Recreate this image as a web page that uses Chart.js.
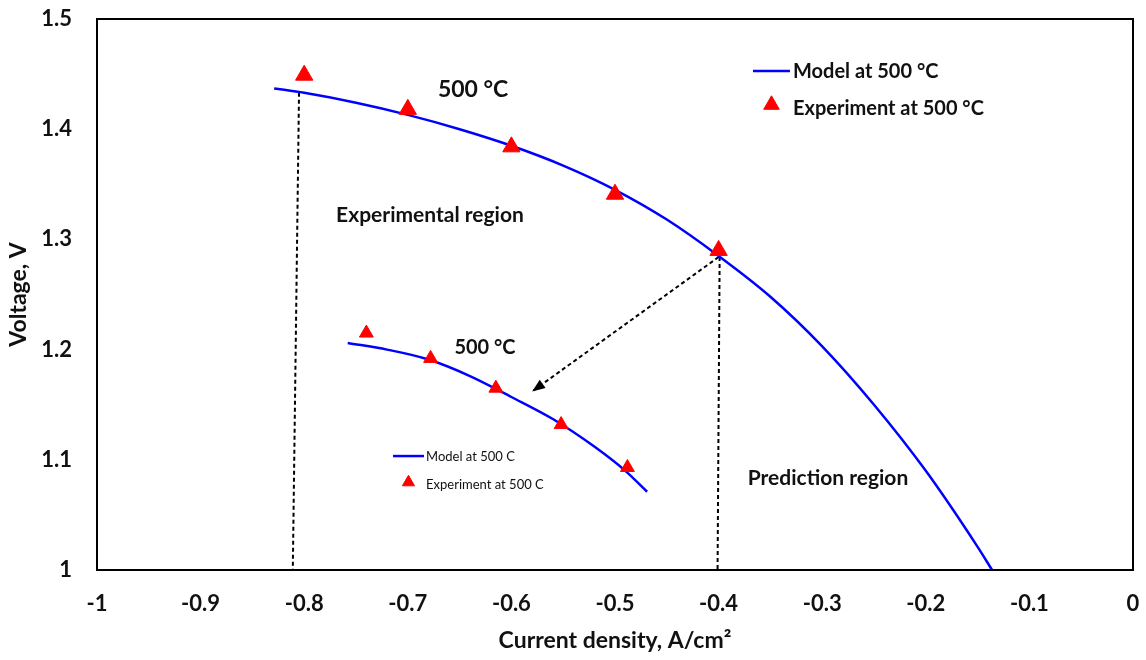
<!DOCTYPE html>
<html>
<head>
<meta charset="utf-8">
<script src="https://cdn.jsdelivr.net/npm/chart.js@4.4.0/dist/chart.umd.min.js"></script>
<style>
  html, body { margin: 0; padding: 0; background: #fff; }
  #wrap { width: 1146px; height: 660px; }
</style>
</head>
<body>
<div id="wrap"><canvas id="polChart" width="1146" height="660"></canvas></div>
<script>
// model polarization curve at 500 C (current density A/cm2, voltage V)
const modelJ = [-0.829, -0.80, -0.75, -0.70, -0.65, -0.60, -0.55, -0.50, -0.45, -0.40, -0.35, -0.30, -0.25, -0.20, -0.15, -0.136];
const modelV = [1.437, 1.433, 1.424, 1.413, 1.400, 1.385, 1.367, 1.345, 1.318, 1.285, 1.248, 1.203, 1.150, 1.090, 1.021, 1.000];

// measured points
const expJ = [-0.80, -0.70, -0.60, -0.50, -0.40];
const expV = [1.449, 1.418, 1.384, 1.341, 1.290];

// zoomed copy of the experimental region
const insetModelJ = [-0.758, -0.72, -0.68, -0.64, -0.60, -0.56, -0.52, -0.49, -0.469];
const insetModelV = [1.206, 1.200, 1.191, 1.176, 1.157, 1.137, 1.112, 1.090, 1.071];
const insetExpJ = [-0.740, -0.678, -0.615, -0.552, -0.488];
const insetExpV = [1.215, 1.192, 1.165, 1.132, 1.093];

// dashed guides and arrow
const guideLeftJ = [-0.805, -0.811];
const guideLeftV = [1.433, 1.0];
const guideRightJ = [-0.399, -0.401];
const guideRightV = [1.284, 1.0];
const arrowJ = [-0.400, -0.580];
const arrowV = [1.284, 1.162];

const xTicks = [-1, -0.9, -0.8, -0.7, -0.6, -0.5, -0.4, -0.3, -0.2, -0.1, 0];
const yTicks = [1, 1.1, 1.2, 1.3, 1.4, 1.5];

const FONT = 'Lato, "Open Sans", sans-serif';
const INK = '#111';
const BLUE = '#0000ff';
const RED = '#ff0000';

const pts = (xs, ys) => xs.map((x, i) => ({ x: x, y: ys[i] }));

// free text and the two hand-placed legends, anchored in data space
const notes = [
  { text: '500 \u00B0C', x: -0.637, y: 1.436, size: 23 },
  { text: '500 \u00B0C', x: -0.6255, y: 1.2015, size: 20 },
  { text: 'Experimental region', x: -0.6786, y: 1.322, size: 21 },
  { text: 'Prediction region', x: -0.2944, y: 1.0835, size: 21 }
];
const legends = [
  { x0: -0.3668, x1: -0.3311, tx: -0.3282, yLine: 1.4528, yMark: 1.4201, size: 20, r: 9, lw: 2.5,
    labels: ['Model at 500 \u00B0C', 'Experiment at 500 \u00B0C'], weight: 'bold' },
  { x0: -0.7143, x1: -0.6844, tx: -0.6824, yLine: 1.1034, yMark: 1.0780, size: 13, r: 7, lw: 2.5,
    labels: ['Model at 500 C', 'Experiment at 500 C'], weight: 'normal' }
];

const decor = {
  id: 'decor',
  afterDatasetsDraw(chart) {
    const { ctx, chartArea: a, scales: { x, y } } = chart;
    ctx.save();
    // frame
    ctx.strokeStyle = '#000';
    ctx.lineWidth = 2;
    ctx.strokeRect(a.left, a.top, a.right - a.left, a.bottom - a.top);

    // arrowhead
    const x1 = x.getPixelForValue(arrowJ[0]), y1 = y.getPixelForValue(arrowV[0]);
    const x2 = x.getPixelForValue(arrowJ[1]), y2 = y.getPixelForValue(arrowV[1]);
    const ang = Math.atan2(y2 - y1, x2 - x1);
    const len = 13, half = 5;
    ctx.fillStyle = '#000';
    ctx.beginPath();
    ctx.moveTo(x2, y2);
    ctx.lineTo(x2 - len * Math.cos(ang) + half * Math.sin(ang), y2 - len * Math.sin(ang) - half * Math.cos(ang));
    ctx.lineTo(x2 - len * Math.cos(ang) - half * Math.sin(ang), y2 - len * Math.sin(ang) + half * Math.cos(ang));
    ctx.closePath();
    ctx.fill();

    // text notes
    ctx.fillStyle = INK;
    ctx.textBaseline = 'middle';
    ctx.textAlign = 'center';
    notes.forEach(n => {
      ctx.font = 'bold ' + n.size + 'px ' + FONT;
      ctx.fillText(n.text, x.getPixelForValue(n.x), y.getPixelForValue(n.y));
    });

    // legends
    legends.forEach(l => {
      const yl = y.getPixelForValue(l.yLine), ym = y.getPixelForValue(l.yMark);
      const xa = x.getPixelForValue(l.x0), xb = x.getPixelForValue(l.x1);
      ctx.strokeStyle = BLUE;
      ctx.lineWidth = l.lw;
      ctx.beginPath();
      ctx.moveTo(xa, yl);
      ctx.lineTo(xb, yl);
      ctx.stroke();
      ctx.fillStyle = RED;
      ctx.strokeStyle = RED;
      ctx.lineWidth = 1;
      Chart.helpers.drawPoint(ctx, { pointStyle: 'triangle', radius: l.r, rotation: 0, borderWidth: 1 }, (xa + xb) / 2, ym - l.r / 4);
      ctx.fillStyle = INK;
      ctx.textAlign = 'left';
      ctx.font = l.weight + ' ' + l.size + 'px ' + FONT;
      const tx = x.getPixelForValue(l.tx);
      ctx.fillText(l.labels[0], tx, yl + 1);
      ctx.fillText(l.labels[1], tx, ym + 1);
    });
    ctx.restore();
  }
};

new Chart(document.getElementById('polChart'), {
  type: 'scatter',
  data: {
    datasets: [
      { data: pts(expJ, expV), pointStyle: 'triangle', pointRadius: 10, pointBackgroundColor: RED,
        pointBorderColor: RED, pointBorderWidth: 1, showLine: false, order: 1 },
      { data: pts(insetExpJ, insetExpV), pointStyle: 'triangle', pointRadius: 8, pointBackgroundColor: RED,
        pointBorderColor: RED, pointBorderWidth: 1, showLine: false, order: 1 },
      { data: pts(modelJ, modelV), showLine: true, borderColor: BLUE, borderWidth: 2.5, pointRadius: 0,
        cubicInterpolationMode: 'monotone', order: 2 },
      { data: pts(insetModelJ, insetModelV), showLine: true, borderColor: BLUE, borderWidth: 2.5, pointRadius: 0,
        cubicInterpolationMode: 'monotone', order: 2 },
      { data: pts(guideLeftJ, guideLeftV), showLine: true, borderColor: '#000', borderWidth: 2, borderDash: [4, 3],
        pointRadius: 0, order: 3 },
      { data: pts(guideRightJ, guideRightV), showLine: true, borderColor: '#000', borderWidth: 2, borderDash: [4, 3],
        pointRadius: 0, order: 3 },
      { data: pts(arrowJ, arrowV), showLine: true, borderColor: '#000', borderWidth: 2, borderDash: [4, 3],
        pointRadius: 0, order: 3 }
    ]
  },
  options: {
    responsive: false,
    animation: false,
    events: [],
    layout: { padding: { top: 19, right: 13, left: 0, bottom: 0 } },
    plugins: { legend: { display: false }, tooltip: { enabled: false } },
    scales: {
      x: {
        type: 'linear', min: -1, max: 0,
        afterBuildTicks: s => { s.ticks = xTicks.map(v => ({ value: v })); },
        afterFit: s => { s.height = 90; s.paddingLeft = 0; s.paddingRight = 0; },
        grid: { display: false, drawTicks: false },
        border: { display: false },
        ticks: { color: INK, padding: 21, font: { family: FONT, size: 22, weight: 'bold' }, callback: v => String(v) },
        title: { display: true, text: 'Current density, A/cm\u00B2', color: INK,
          font: { family: FONT, size: 23, weight: 'bold' }, padding: { bottom: 6 } }
      },
      y: {
        type: 'linear', min: 1, max: 1.5,
        afterBuildTicks: s => { s.ticks = yTicks.map(v => ({ value: v })); },
        afterFit: s => { s.width = 97; s.paddingTop = 0; s.paddingBottom = 0; },
        grid: { display: false, drawTicks: false },
        border: { display: false },
        ticks: { color: INK, padding: 25, font: { family: FONT, size: 22, weight: 'bold' }, callback: v => String(v) },
        title: { display: true, text: 'Voltage, V', color: INK,
          font: { family: FONT, size: 23, weight: 'bold' }, padding: { top: 5 } }
      }
    }
  },
  plugins: [decor]
});
</script>
</body>
</html>
